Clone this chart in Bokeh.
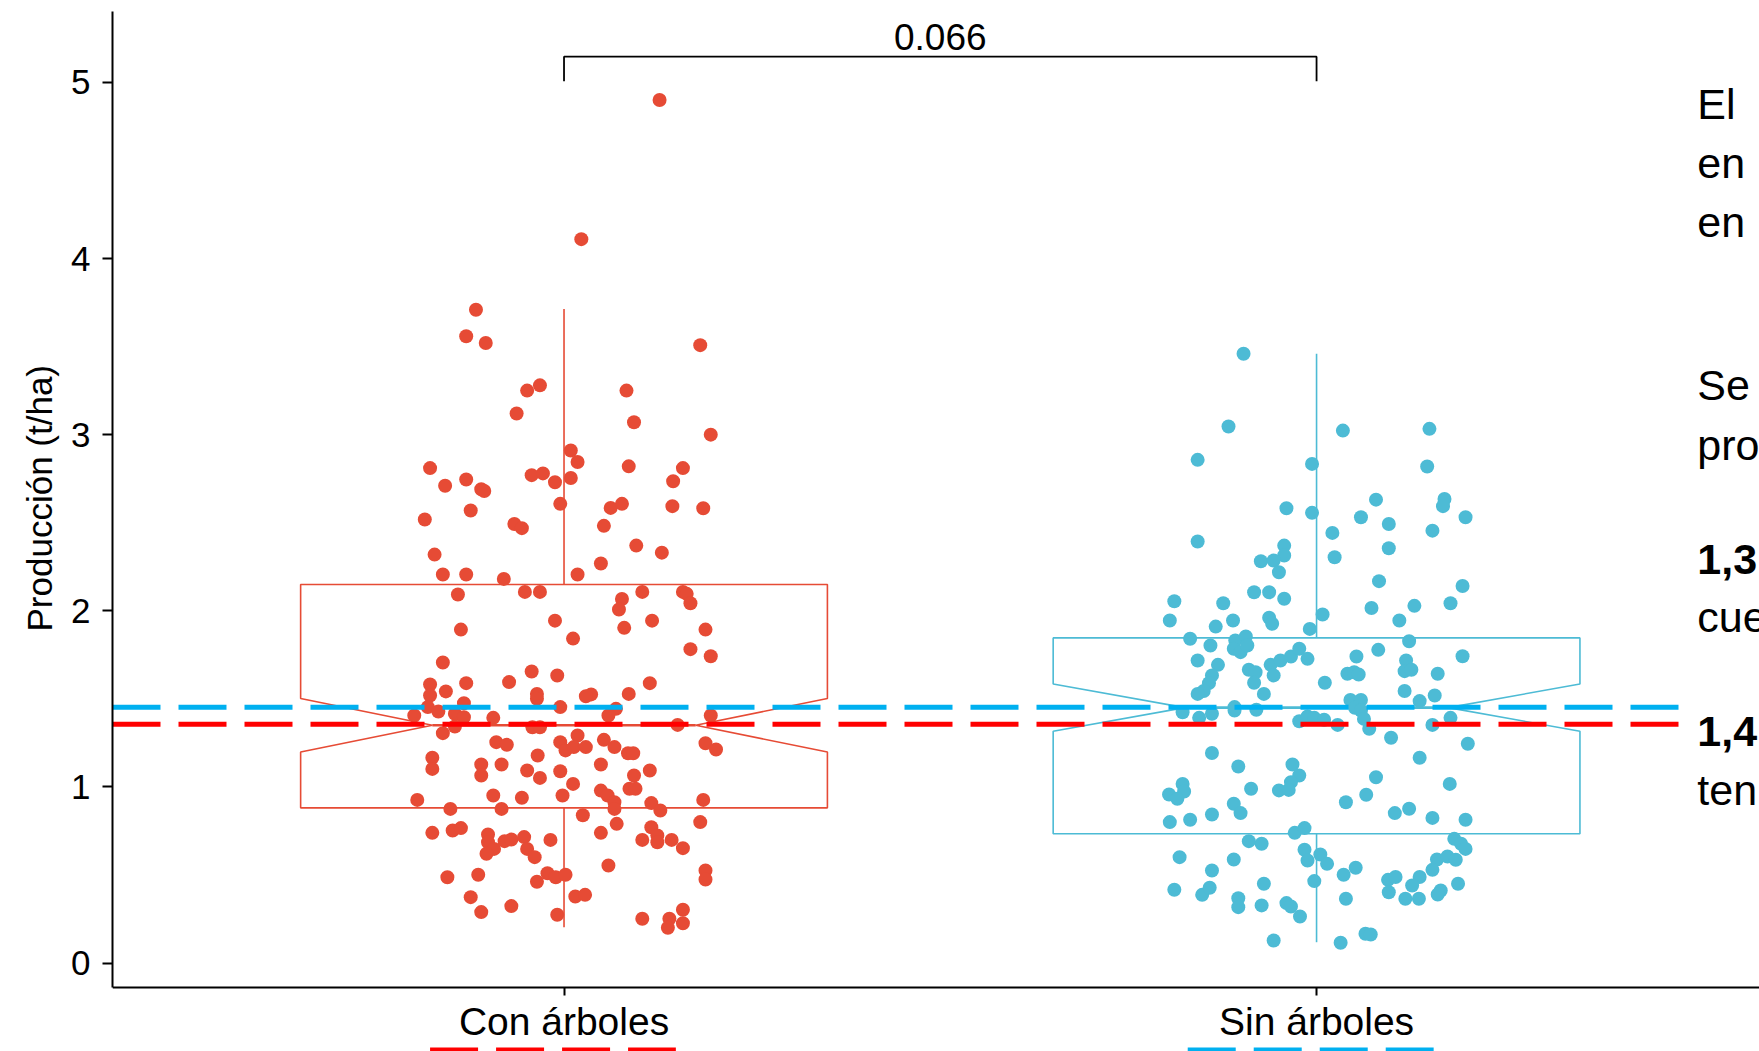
import numpy as np
from bokeh.plotting import figure
from bokeh.models import Range1d, FixedTicker, Title
from bokeh.core.properties import value
from bokeh.embed import file_html
from bokeh.resources import INLINE

# ---------------- data ----------------
categories = ["Con árboles", "Sin árboles"]
y_ticks = [0, 1, 2, 3, 4, 5]

# jitter offset (category units) and production (t/ha) of every point
con_jitter = [0.127, 0.023, -0.117, -0.130, -0.104, 0.181,
    -0.032, -0.049, 0.083, -0.063, 0.093, 0.195, 0.009, 0.018, -0.178, 0.086, 0.158, -0.043, -0.028, 0.009,
    -0.012, -0.130, -0.158, -0.110, -0.106, 0.145, -0.005, 0.062, 0.077, 0.144, 0.185, -0.124, -0.185, -0.066,
    -0.056, 0.053, 0.096, 0.130, -0.172, 0.049, -0.161, -0.130, -0.080, 0.018, -0.141, -0.052, -0.032, 0.077,
    0.104, 0.158, 0.163, 0.168, 0.073, -0.012, 0.117, 0.080, -0.137, 0.188, 0.012, 0.168, 0.195, -0.161,
    -0.043, -0.009,
    -0.178, -0.130, -0.073, 0.114, -0.157, -0.178, -0.036, -0.036, 0.036, 0.029, 0.086, -0.133, -0.181, -0.167,
    -0.199, -0.145, -0.133, -0.094, -0.005, 0.069, 0.059, 0.195, -0.145, -0.161, -0.042, -0.032, 0.151, -0.090,
    -0.076, -0.005, 0.018, 0.002, 0.013, 0.029, 0.053, 0.067, 0.085, 0.092, 0.188, 0.202, -0.175, -0.175,
    -0.110, -0.110, -0.083, -0.049, -0.035, -0.032, -0.005, 0.012, 0.049, 0.093, 0.114, 0.087, 0.095, -0.094,
    -0.056, -0.002, 0.049, 0.058, 0.067, 0.067, -0.195, -0.151, -0.083, 0.116, 0.128, 0.185, 0.025, 0.181,
    0.070, -0.175, -0.148, -0.137, -0.101, -0.101, -0.093, -0.103, -0.079, -0.070, -0.053, -0.049, -0.039, -0.018,
    0.049, 0.104, 0.116, 0.124, 0.124, 0.143, 0.158, 0.059, -0.022, -0.011, 0.002, -0.036, -0.155, -0.114,
    0.188, 0.188, -0.124, -0.110, -0.070, 0.015, 0.028, -0.009, 0.104, 0.158, 0.158, 0.140, 0.138]
con_prod = [4.90, 4.11, 3.709, 3.559, 3.52, 3.508,
    3.28, 3.25, 3.25, 3.12, 3.07, 3.00, 2.91, 2.845, 2.81, 2.82, 2.81, 2.77, 2.78, 2.754,
    2.73, 2.745, 2.71, 2.69, 2.68, 2.735, 2.607, 2.584, 2.607, 2.594, 2.582, 2.569, 2.518, 2.493,
    2.469, 2.482, 2.37, 2.33, 2.319, 2.268, 2.206, 2.206, 2.181, 2.206, 2.092, 2.107, 2.107, 2.067,
    2.107, 2.107, 2.096, 2.043, 2.007, 1.944, 1.944, 1.903, 1.893, 1.893, 1.842, 1.782, 1.742, 1.706,
    1.655, 1.632,
    1.581, 1.589, 1.595, 1.589, 1.542, 1.519, 1.528, 1.50, 1.525, 1.515, 1.528, 1.475, 1.453, 1.428,
    1.405, 1.415, 1.396, 1.392, 1.453, 1.443, 1.405, 1.405, 1.343, 1.305, 1.339, 1.339, 1.352, 1.254,
    1.239, 1.254, 1.292, 1.207, 1.226, 1.226, 1.267, 1.226, 1.191, 1.191, 1.248, 1.212, 1.165, 1.102,
    1.127, 1.065, 1.127, 1.093, 1.178, 1.051, 1.089, 1.017, 1.127, 1.065, 1.093, 0.989, 0.989, 0.951,
    0.938, 0.951, 0.979, 0.951, 0.913, 0.875, 0.926, 0.875, 0.875, 0.908, 0.866, 0.926, 0.839, 0.80,
    0.79, 0.739, 0.752, 0.766, 0.730, 0.686, 0.648, 0.620, 0.692, 0.701, 0.715, 0.648, 0.601, 0.699,
    0.739, 0.699, 0.771, 0.724, 0.686, 0.699, 0.652, 0.554, 0.510, 0.487, 0.501, 0.461, 0.487, 0.501,
    0.525, 0.474, 0.374, 0.289, 0.323, 0.378, 0.387, 0.274, 0.251, 0.302, 0.226, 0.251, 0.20]

sin_jitter = [-0.097, -0.117, 0.035, 0.150, -0.158, -0.006, 0.147, 0.079, 0.170, 0.168, -0.040, -0.006,
    0.059, 0.198, 0.096, 0.154, 0.021, -0.158, -0.043, -0.043, 0.096, -0.074, -0.057, 0.024, -0.050,
    0.083, 0.194, -0.189, -0.124, -0.083, -0.063, -0.043, 0.073, 0.130, 0.178, 0.008, -0.195, -0.111,
    -0.063, -0.059, 0.110, -0.134, -0.009,
    -0.168, -0.141, -0.108, -0.094, -0.110, -0.101, -0.092, 0.123, 0.082, 0.053, 0.194, -0.158, -0.131,
    -0.061, -0.048, -0.034, -0.023, -0.012, 0.119, 0.117, 0.126, -0.090, -0.081, -0.139, -0.143, -0.057,
    0.041, 0.050, 0.056, 0.161, 0.011, -0.083, -0.150, -0.158, -0.070, 0.117, 0.157, 0.137, 0.045, 0.059,
    -0.109, -0.109, -0.178, -0.139, -0.156, -0.080, 0.051, 0.059, 0.063, -0.023, -0.012, -0.003, 0.010,
    0.028, 0.070, 0.154, 0.178, 0.099, 0.201, -0.139, 0.137, -0.104, -0.032, -0.023, -0.034, 0.079,
    0.177, -0.178, -0.176, -0.196, -0.185, -0.087, -0.050, -0.037, 0.039, 0.066, -0.110, -0.101, -0.195,
    -0.168, -0.139, 0.104, 0.123, 0.154, 0.198, -0.029, -0.016, 0.183, 0.192, 0.198, -0.090, -0.073,
    -0.182, -0.110, -0.016, -0.012, 0.005, 0.014, 0.160, 0.174, 0.185, 0.154, -0.139, 0.036, 0.052,
    0.095, 0.105, 0.137, 0.127, 0.188, -0.189, -0.152, -0.142, -0.070, -0.003, 0.096, 0.165, 0.161,
    -0.104, -0.104, -0.073, -0.040, -0.034, 0.039, 0.118, 0.136, -0.022, -0.057, 0.032, 0.065, 0.072]
sin_prod = [3.459, 3.046, 3.023, 3.033, 2.857, 2.834, 2.819, 2.631, 2.635, 2.594, 2.582, 2.556,
    2.531, 2.531, 2.493, 2.455, 2.442, 2.393, 2.370, 2.314, 2.355, 2.281, 2.285, 2.304, 2.219,
    2.168, 2.141, 2.054, 2.043, 2.105, 2.105, 2.068, 2.016, 2.028, 2.043, 1.979, 1.945, 1.945,
    1.960, 1.926, 1.945, 1.910, 1.897,
    1.841, 1.803, 1.831, 1.854, 1.784, 1.765, 1.803, 1.827, 1.778, 1.740, 1.742, 1.718, 1.693,
    1.693, 1.718, 1.740, 1.784, 1.727, 1.718, 1.657, 1.665, 1.665, 1.651, 1.633, 1.589, 1.633,
    1.642, 1.651, 1.638, 1.642, 1.591, 1.591, 1.544, 1.528, 1.528, 1.544, 1.519, 1.487, 1.494, 1.494,
    1.453, 1.434, 1.424, 1.415, 1.392, 1.438, 1.449, 1.434, 1.386, 1.373, 1.400, 1.392, 1.381,
    1.352, 1.330, 1.352, 1.392, 1.279, 1.245, 1.192, 1.165, 1.116, 1.127, 1.065, 1.027, 1.055,
    1.017, 1.017, 0.974, 0.957, 0.932, 0.989, 0.980, 0.983, 0.913, 0.955, 0.904, 0.851, 0.800,
    0.813, 0.843, 0.851, 0.876, 0.824, 0.813, 0.739, 0.766, 0.705, 0.677, 0.648, 0.692, 0.677,
    0.601, 0.588, 0.643, 0.582, 0.616, 0.563, 0.588, 0.605, 0.586, 0.529, 0.525, 0.501, 0.541,
    0.472, 0.488, 0.488, 0.440, 0.450, 0.416, 0.387, 0.427, 0.450, 0.465, 0.402, 0.412, 0.389,
    0.368, 0.317, 0.327, 0.340, 0.321, 0.365, 0.365, 0.365, 0.264, 0.128, 0.115, 0.166, 0.162]

# notched-box statistics (Con, Sin)
box_q1 = [0.881, 0.734]
box_median = [1.350, 1.450]
box_q3 = [2.149, 1.846]
notch_low = [1.198, 1.316]
notch_high = [1.502, 1.584]
whisker_low = [0.203, 0.118]
whisker_high = [3.714, 3.459]

# reference (mean) lines: Con, Sin
ref_values = [1.355, 1.452]

p_value_label = "0.066"
side_lines = ["El", "en", "en", "Se", "pro", "1,3", "cue", "1,4", "ten"]
side_bold = [False, False, False, False, False, True, False, True, False]

# ---------------- styling ----------------
FONT = "Liberation Sans"
point_colors = ["#E64B35", "#4DBBD5"]
line_colors = ["#FF0000", "#00B0F0"]
BOX_W = 0.35        # half width of box
NOTCH_W = 0.175     # half width at the notch
Y_AXIS_POS = -0.1402
Y_TOP = 5.4026

p = figure(width=1759, height=1051, output_backend="svg", toolbar_location=None,
           x_range=Range1d(0.4, 2.5886), y_range=Range1d(-0.5025, Y_TOP),
           min_border_left=112, min_border_right=0, min_border_top=11, min_border_bottom=0)
p.outline_line_color = None
p.xgrid.visible = False
p.ygrid.visible = False
p.background_fill_color = "white"

for ax in (p.xaxis[0], p.yaxis[0]):
    ax.axis_line_color = "black"
    ax.axis_line_width = 2
    ax.major_tick_line_color = "black"
    ax.major_tick_line_width = 2
    ax.major_tick_in = 0
    ax.minor_tick_line_color = None
    ax.major_label_text_color = "black"
    ax.major_label_text_font = FONT

p.xaxis.fixed_location = Y_AXIS_POS
p.xaxis.ticker = FixedTicker(ticks=[1, 2])
p.xaxis.major_label_overrides = {i + 1: c for i, c in enumerate(categories)}
p.xaxis.major_tick_out = 8
p.xaxis.major_label_text_font_size = "39px"
p.xaxis.major_label_standoff = 4

p.yaxis.bounds = (Y_AXIS_POS, Y_TOP)
p.yaxis.ticker = FixedTicker(ticks=y_ticks)
p.yaxis.major_tick_out = 10
p.yaxis.major_label_text_font_size = "35px"
p.yaxis.major_label_standoff = 12

# y axis title, placed along the visible axis (bottom of text offset from frame bottom)
ytitle = Title(text="Producción (t/ha)", align="left", offset=420, standoff=19,
               text_font=FONT, text_font_size="35px", text_font_style="normal", text_color="black")
p.add_layout(ytitle, "left")

# notched boxes, whiskers, medians
for i in range(len(categories)):
    xc = i + 1
    xs = [xc - BOX_W, xc - BOX_W, xc - NOTCH_W, xc - BOX_W, xc - BOX_W,
          xc + BOX_W, xc + BOX_W, xc + NOTCH_W, xc + BOX_W, xc + BOX_W]
    ys = [box_q3[i], notch_high[i], box_median[i], notch_low[i], box_q1[i],
          box_q1[i], notch_low[i], box_median[i], notch_high[i], box_q3[i]]
    p.patch(xs, ys, fill_alpha=0, line_color=point_colors[i], line_width=1.6)
    p.segment(x0=[xc, xc], y0=[box_q3[i], box_q1[i]], x1=[xc, xc],
              y1=[whisker_high[i], whisker_low[i]], line_color=point_colors[i], line_width=1.6)
    p.segment(x0=[xc - NOTCH_W], y0=[box_median[i]], x1=[xc + NOTCH_W], y1=[box_median[i]],
              line_color=point_colors[i], line_width=2.6)

# jittered points
p.scatter(x=1 + np.array(con_jitter), y=con_prod, size=14, marker="circle",
          fill_color=point_colors[0], line_color=None)
p.scatter(x=2 + np.array(sin_jitter), y=sin_prod, size=14, marker="circle",
          fill_color=point_colors[1], line_color=None)

# dashed reference lines (blue above, red)
for i in (1, 0):
    p.segment(x0=[0.4], y0=[ref_values[i]], x1=[2.482], y1=[ref_values[i]],
              line_color=line_colors[i], line_width=5, line_dash="48 18")

# coloured dashed keys under the category labels
key_x0 = [0.822, 1.8288]
key_x1 = [1.1486, 2.1556]
for i in range(2):
    p.segment(x0=[key_x0[i]], y0=[-0.494], x1=[key_x1[i]], y1=[-0.494],
              line_color=line_colors[i], line_width=5, line_dash="48 18")

# significance bracket
p.line(x=[1, 1, 2, 2], y=[5.006, 5.146, 5.146, 5.006], line_color="black", line_width=1.8)
p.text(x=[1.5], y=[5.255], text=[p_value_label], text_align="center", text_baseline="middle",
       text_font=value(FONT), text_font_size="37px", text_color="black")

# side text (cut off by the window edge)
side_y = [4.879, 4.541, 4.210, 3.280, 2.943, 2.293, 1.962, 1.312, 0.981]
for t, yy, b in zip(side_lines, side_y, side_bold):
    p.text(x=[2.506], y=[yy], text=[t], text_align="left", text_baseline="middle",
           text_font=value(FONT), text_font_size="43px", text_color="black",
           text_font_style="bold" if b else "normal")

open("out.html", "w").write(file_html(p, INLINE))
